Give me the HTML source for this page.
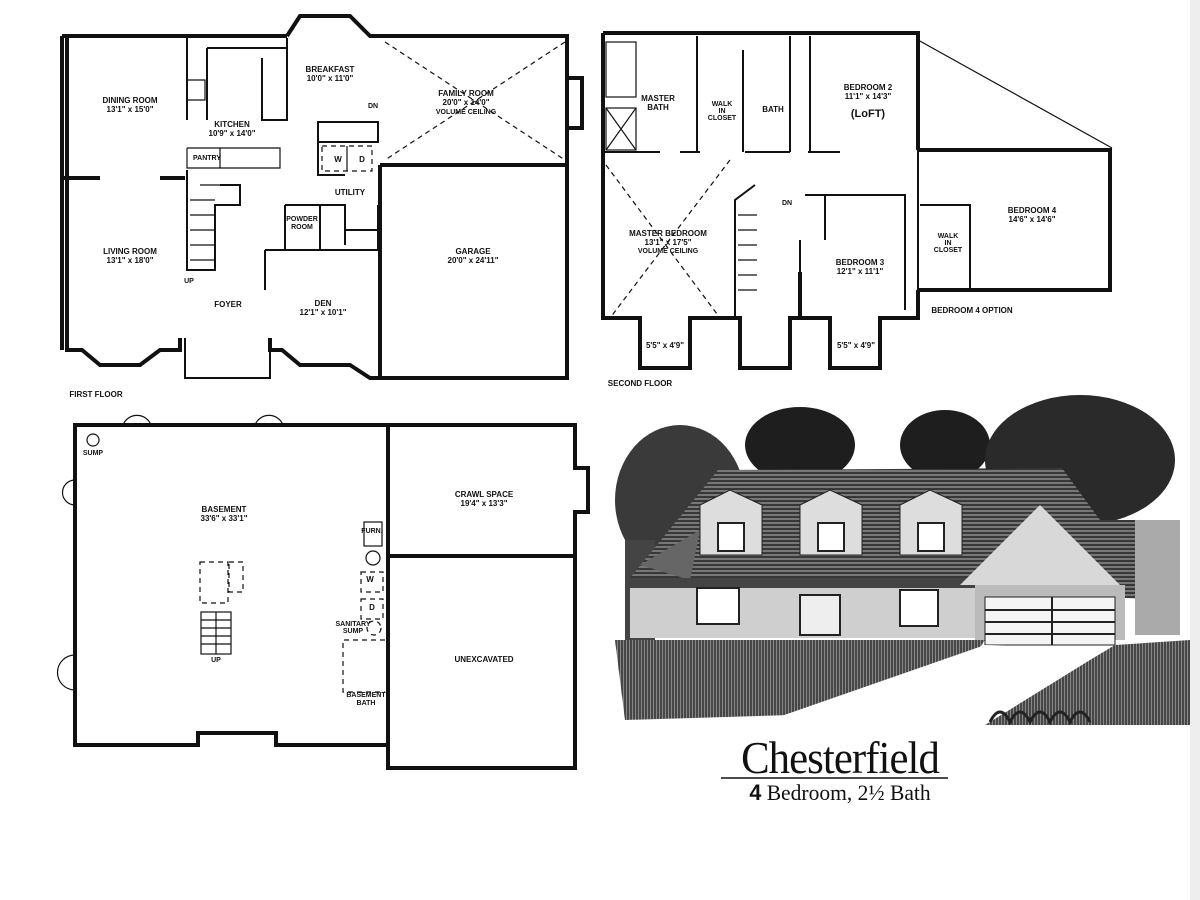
<!DOCTYPE html>
<html><head><meta charset="utf-8"><style>
html,body{margin:0;padding:0;background:#fff;}
svg{display:block;}
text{font-family:"Liberation Sans",sans-serif;font-weight:bold;fill:#111;}
.t{font-size:8px;text-anchor:middle;}
.s{font-size:7px;text-anchor:middle;}
.w{fill:none;stroke:#111;stroke-width:4;}
.w2{fill:none;stroke:#111;stroke-width:2;}
.l{fill:none;stroke:#111;stroke-width:1.2;}
.d{fill:none;stroke:#111;stroke-width:1.2;stroke-dasharray:5 4;}
</style></head><body>
<svg width="1200" height="900" viewBox="0 0 1200 900" xmlns="http://www.w3.org/2000/svg">
<defs>
<pattern id="h" width="6" height="4" patternUnits="userSpaceOnUse"><rect width="6" height="4" fill="#777"/><path d="M0,1 H6" stroke="#222" stroke-width="1.5"/></pattern>
<pattern id="g" width="3" height="6" patternUnits="userSpaceOnUse"><rect width="3" height="6" fill="#888"/><path d="M1,0 V6" stroke="#222" stroke-width="1.3"/></pattern>
</defs>
<rect x="0" y="0" width="1200" height="900" fill="#fff"/>
<rect x="1190" y="0" width="10" height="900" fill="#eeeeef"/>

<!-- FIRST FLOOR -->
<g>
<path class="w" d="M62,36 H287 M287,36 L300,16 H350 L370,36 H567 V378 H380 V378 H370 L350,365 H300 L282,350 H270 V338 M180,338 V350 H160 L140,365 H100 L82,350 H67 V36"/>
<path class="w" d="M62,36 V350"/>
<path class="w" d="M380,165 H567 M380,165 V378"/>
<path class="w" d="M62,178 H100 M160,178 H185"/>
<path class="w2" d="M187,38 V120 M207,48 V120 M207,48 H287 M262,58 V120 H287 V38"/>
<path class="l" d="M187,80 H205 V100 H187"/>
<path class="l" d="M187,148 V168 H280 V148 H187 M220,148 V168"/>
<path class="w2" d="M187,170 V270 H215 V205 H240 V185 H220"/>
<path class="l" d="M190,200 H215 M190,215 H215 M190,230 H215 M190,245 H215 M190,260 H215 M200,185 H230"/>
<path class="w2" d="M318,122 H378 V142 H318 Z"/>
<rect class="d" x="322" y="146" width="50" height="25"/>
<path class="l" d="M347,146 V171"/>
<path class="w2" d="M318,142 V175 H345"/>
<path class="w2" d="M265,250 V290 M265,250 H378 V205 M285,205 H345 V245 M320,205 V250 M285,205 V250"/>
<path class="w2" d="M345,230 H378"/>
<path class="d" d="M385,42 L565,160 M565,42 L385,160"/>
<path class="w" d="M567,78 H582 V128 H567"/>
<path class="w2" d="M185,338 V378 H270 V338"/>
<text class="t" x="130" y="103">DINING ROOM</text><text class="t" x="130" y="112">13'1" x 15'0"</text>
<text class="t" x="232" y="127">KITCHEN</text><text class="t" x="232" y="136">10'9" x 14'0"</text>
<text class="t" x="330" y="72">BREAKFAST</text><text class="t" x="330" y="81">10'0" x 11'0"</text>
<text class="t" x="466" y="96">FAMILY ROOM</text><text class="t" x="466" y="105">20'0" x 14'0"</text><text class="s" x="466" y="114">VOLUME CEILING</text>
<text class="t" x="130" y="254">LIVING ROOM</text><text class="t" x="130" y="263">13'1" x 18'0"</text>
<text class="t" x="228" y="307">FOYER</text>
<text class="t" x="323" y="306">DEN</text><text class="t" x="323" y="315">12'1" x 10'1"</text>
<text class="t" x="473" y="254">GARAGE</text><text class="t" x="473" y="263">20'0" x 24'11"</text>
<text class="t" x="350" y="195">UTILITY</text>
<text class="s" x="207" y="160">PANTRY</text>
<text class="s" x="373" y="108">DN</text>
<text class="s" x="189" y="283">UP</text>
<text class="t" x="338" y="162">W</text><text class="t" x="362" y="162">D</text>
<text class="s" x="302" y="221">POWDER</text><text class="s" x="302" y="229">ROOM</text>
<text class="t" x="96" y="397">FIRST FLOOR</text>
</g>

<!-- SECOND FLOOR -->
<g>
<path class="w" d="M603,33 H918 V150 M603,33 V318 H640 V368 H690 V318 H740 V368 H790 V318 H800"/>
<path class="w" d="M800,318 V272 M800,318 H830 V368 H880 V318 H918 V290 M918,150 H1110 V290 H918"/>
<path class="l" d="M918,40 L1112,148"/>
<path class="w2" d="M918,150 V290"/>
<path class="w2" d="M603,152 H660 M680,152 H700 M745,152 H790 M808,152 H840 M790,36 V152 M697,36 V152 M743,50 V152 M810,36 V152"/>
<path class="w2" d="M805,195 H905 V220 M825,195 V240 M905,220 V310 M800,240 V318"/>
<path class="w2" d="M755,185 L735,200 V318"/>
<path class="l" d="M738,215 H757 M738,230 H757 M738,245 H757 M738,260 H757 M738,275 H757 M738,290 H757"/>
<path class="w2" d="M920,205 H970 V290"/>
<rect class="l" x="606" y="42" width="30" height="55"/>
<rect class="l" x="606" y="108" width="30" height="42"/>
<path class="l" d="M606,108 L636,150 M636,108 L606,150"/>
<path class="d" d="M606,165 L720,318 M730,160 L610,318"/>
<text class="t" x="658" y="101">MASTER</text><text class="t" x="658" y="110">BATH</text>
<text class="s" x="722" y="106">WALK</text><text class="s" x="722" y="113">IN</text><text class="s" x="722" y="120">CLOSET</text>
<text class="t" x="773" y="112">BATH</text>
<text class="t" x="868" y="90">BEDROOM 2</text><text class="t" x="868" y="99">11'1" x 14'3"</text>
<text x="868" y="117" style="font-size:11px;text-anchor:middle;">(LoFT)</text>
<text class="t" x="668" y="236">MASTER BEDROOM</text><text class="t" x="668" y="245">13'1" x 17'5"</text><text class="s" x="668" y="253">VOLUME CEILING</text>
<text class="t" x="860" y="265">BEDROOM 3</text><text class="t" x="860" y="274">12'1" x 11'1"</text>
<text class="t" x="1032" y="213">BEDROOM 4</text><text class="t" x="1032" y="222">14'6" x 14'6"</text>
<text class="s" x="948" y="238">WALK</text><text class="s" x="948" y="245">IN</text><text class="s" x="948" y="252">CLOSET</text>
<text class="t" x="972" y="313">BEDROOM 4 OPTION</text>
<text class="t" x="665" y="348">5'5" x 4'9"</text>
<text class="t" x="856" y="348">5'5" x 4'9"</text>
<text class="s" x="787" y="205">DN</text>
<text class="t" x="640" y="386">SECOND FLOOR</text>
</g>

<!-- BASEMENT -->
<g>
<path class="w" d="M75,425 H388 V745 H276 V733 H198 V745 H75 Z"/>
<path class="w" d="M388,425 H575 V468 H588 V512 H575 V768 H388 V745"/>
<path class="w" d="M388,556 H575"/>
<circle class="l" cx="93" cy="440" r="6"/>
<path class="d" d="M200,562 H228 V603 H200 Z M229,562 H243 V592 H229 Z"/>
<rect class="l" x="201" y="612" width="30" height="42"/>
<path class="l" d="M201,620 H231 M201,628 H231 M201,636 H231 M201,644 H231 M216,612 V654"/>
<rect class="l" x="364" y="522" width="18" height="24"/>
<circle class="l" cx="373" cy="558" r="7"/>
<rect class="d" x="361" y="572" width="22" height="20"/>
<rect class="d" x="361" y="599" width="22" height="20"/>
<circle class="d" cx="374" cy="628" r="7"/>
<path class="d" d="M385,640 H343 V692 H385"/>
<path class="l" d="M75,480 A12,12 0 0 0 75,505 M75,655 A12,12 0 0 0 75,690 M123,425 A15,15 0 0 1 151,425 M255,425 A15,15 0 0 1 283,425"/>
<text class="t" x="224" y="512">BASEMENT</text><text class="t" x="224" y="521">33'6" x 33'1"</text>
<text class="t" x="484" y="497">CRAWL SPACE</text><text class="t" x="484" y="506">19'4" x 13'3"</text>
<text class="t" x="484" y="662">UNEXCAVATED</text>
<text class="s" x="366" y="697">BASEMENT</text><text class="s" x="366" y="705">BATH</text>
<text class="s" x="353" y="626">SANITARY</text><text class="s" x="353" y="633">SUMP</text>
<text class="s" x="372" y="533">FURN.</text>
<text class="t" x="370" y="582">W</text><text class="t" x="372" y="610">D</text>
<text class="s" x="93" y="455">SUMP</text>
<text class="s" x="216" y="662">UP</text>
</g>

<!-- HOUSE DRAWING -->
<g>
<ellipse cx="680" cy="500" rx="65" ry="75" fill="#3a3a3a"/>
<ellipse cx="800" cy="445" rx="55" ry="38" fill="#1e1e1e"/>
<ellipse cx="945" cy="445" rx="45" ry="35" fill="#1e1e1e"/>
<ellipse cx="1080" cy="460" rx="95" ry="65" fill="#2a2a2a"/>
<rect x="625" y="540" width="30" height="110" fill="#444"/>
<polygon points="718,470 1062,468 1100,520 1180,520 1175,600 690,580 630,578" fill="url(#h)"/>
<polygon points="640,565 700,530 690,580" fill="#666"/>
<rect x="630" y="578" width="360" height="60" fill="#cfcfcf"/>
<rect x="630" y="578" width="360" height="10" fill="#444"/>
<polygon points="960,585 1040,505 1120,585" fill="#d8d8d8"/>
<rect x="975" y="585" width="150" height="55" fill="#bbb"/>
<rect x="985" y="597" width="130" height="48" fill="#f4f4f4" stroke="#222"/>
<path d="M985,610 H1115 M985,622 H1115 M985,634 H1115 M1052,597 V645" stroke="#222" stroke-width="2"/>
<rect x="1135" y="520" width="45" height="115" fill="#aaa"/>
<polygon points="700,505 730,490 762,505 762,555 700,555" fill="#ddd" stroke="#222"/>
<polygon points="800,505 830,490 862,505 862,555 800,555" fill="#ddd" stroke="#222"/>
<polygon points="900,505 930,490 962,505 962,555 900,555" fill="#ddd" stroke="#222"/>
<rect x="718" y="523" width="26" height="28" fill="#fff" stroke="#222" stroke-width="2"/>
<rect x="818" y="523" width="26" height="28" fill="#fff" stroke="#222" stroke-width="2"/>
<rect x="918" y="523" width="26" height="28" fill="#fff" stroke="#222" stroke-width="2"/>
<rect x="697" y="588" width="42" height="36" fill="#fff" stroke="#222" stroke-width="2"/>
<rect x="900" y="590" width="38" height="36" fill="#fff" stroke="#222" stroke-width="2"/>
<rect x="800" y="595" width="40" height="40" fill="#eee" stroke="#222" stroke-width="2"/>
<polygon points="615,640 985,640 975,655 790,715 625,720" fill="url(#g)"/>
<polygon points="1115,645 1190,640 1190,725 985,725 1090,660" fill="url(#g)"/>
<polygon points="985,645 1110,648 900,715 770,720" fill="#fff"/>
<path d="M990,722 q10,-20 20,0 q10,-20 20,0 q10,-20 20,0 q10,-20 20,0 q10,-20 20,0" fill="none" stroke="#222" stroke-width="3"/>
</g>

<text x="840" y="773" style="font-family:'Liberation Serif',serif;font-weight:normal;font-size:46px;text-anchor:middle;letter-spacing:-1px;transform:scaleX(0.93);transform-origin:840px 773px;">Chesterfield</text>
<line x1="721" y1="778" x2="948" y2="778" stroke="#111" stroke-width="1.5"/>
<text x="840" y="800" style="font-family:'Liberation Serif',serif;font-weight:normal;font-size:22px;text-anchor:middle;transform:scaleX(0.98);transform-origin:840px 800px;"><tspan style="font-family:'Liberation Sans';font-weight:bold">4</tspan> Bedroom, 2½ Bath</text>
</svg>
</body></html>
